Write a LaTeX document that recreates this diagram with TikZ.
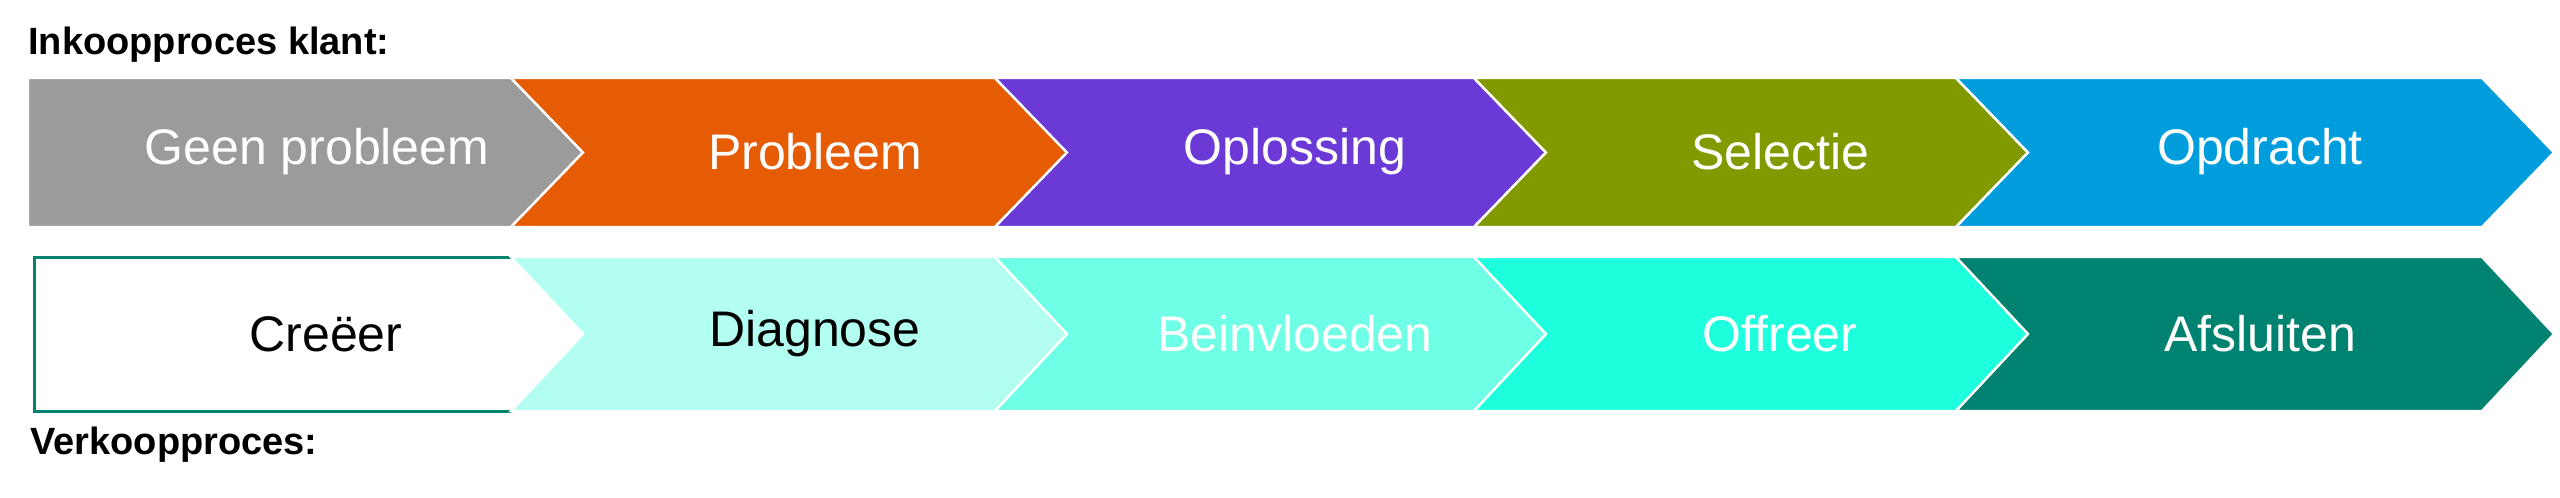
\documentclass[tikz,border=0pt]{standalone}
\usepackage{fontspec}
\setmainfont{Liberation Sans}
\begin{document}
\begin{tikzpicture}[x=0.5pt,y=-0.5pt,
  chev/.style={draw=white,line width=1.2pt},
  lab/.style={font=\fontsize{25pt}{28pt}\selectfont,inner sep=0pt},
  head/.style={font=\bfseries\fontsize{19pt}{22pt}\selectfont,inner sep=0pt,anchor=west}]
\useasboundingbox (0,0) rectangle (2560,498);
\definecolor{cg}{HTML}{9B9B9B}\definecolor{co}{HTML}{E55C04}
\definecolor{cp}{HTML}{6B3AD6}\definecolor{cv}{HTML}{829A00}
\definecolor{cb}{HTML}{009DDC}\definecolor{cl1}{HTML}{B2FFF2}
\definecolor{cl2}{HTML}{6FFFE6}\definecolor{cl3}{HTML}{1EFFDE}
\definecolor{ct}{HTML}{008270}
\newcommand\chv[5]{% x0,x1,top,bot,color ; notch flag by x0
  \fill[#5,chev] (#1,#3) -- (#2,#3) -- (#2+72,{(#3+#4)/2}) -- (#2,#4) -- (#1,#4) -- (#1+72,{(#3+#4)/2}) -- cycle;}
% top row
\fill[cg,chev] (28,78) -- (511,78) -- (583,152.5) -- (511,227) -- (28,227) -- cycle;
\chv{511}{995}{78}{227}{co}
\chv{995}{1474}{78}{227}{cp}
\chv{1474}{1956}{78}{227}{cv}
\chv{1956}{2482}{78}{227}{cb}
% bottom row
\fill[white] (34,257) -- (511,257) -- (583,334) -- (511,411) -- (34,411) -- cycle;
\draw[ct,line width=1.5pt] (511,257) -- (34,257) -- (34,411) -- (511,411);
\chv{511}{995}{257}{411}{cl1}
\chv{995}{1474}{257}{411}{cl2}
\chv{1474}{1956}{257}{411}{cl3}
\chv{1956}{2482}{257}{411}{ct}
% labels
\node[head] (h1) at (28,45) {Inkoopproces klant:};
\node[head] (h2) at (30,445) {Verkoopproces:};
\node[lab,white] (t1) at (317,152) {Geen probleem};
\node[lab,white] (t2) at (815,152) {Probleem};
\node[lab,white] (t3) at (1295,152) {Oplossing};
\node[lab,white] (t4) at (1780,152) {Selectie};
\node[lab,white] (t5) at (2260,152) {Opdracht};
\node[lab,black] (b1) at (326,334) {Creëer};
\node[lab,black] (b2) at (815,334) {Diagnose};
\node[lab,white] (b3) at (1295,334) {Beinvloeden};
\node[lab,white] (b4) at (1780,334) {Offreer};
\node[lab,white] (b5) at (2260,334) {Afsluiten};
\end{tikzpicture}
\end{document}
